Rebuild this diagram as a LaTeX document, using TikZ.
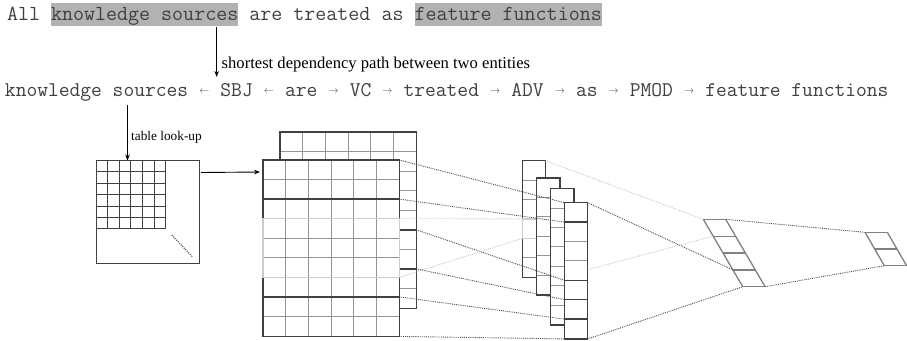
\documentclass[tikz,border=0pt]{standalone}
\usepackage{fontspec}
\setmainfont{Liberation Serif}
\usetikzlibrary{positioning,calc,arrows.meta}

\definecolor{hlgray}{gray}{0.70}
\definecolor{txtgray}{gray}{0.25}
\definecolor{edgegray}{gray}{0.25}
\definecolor{cellgray}{gray}{0.58}
\definecolor{palegray}{gray}{0.80}

% small arrows of the dependency path, one character cell wide
\newcommand\depl{\makebox[\fontcharwd\font`\x]{\raisebox{3pt}{\fontsize{10}{10}\selectfont$\leftarrow$}}}
\newcommand\depr{\makebox[\fontcharwd\font`\x]{\raisebox{3pt}{\fontsize{10}{10}\selectfont$\rightarrow$}}}

\tikzset{
  word/.style={inner sep=0pt, outer sep=0pt, text height=14pt, text depth=3pt,
    text=txtgray, font=\fontsize{21.39}{22}\ttfamily},
  hl/.style={word, fill=hlgray, inner ysep=3pt},
  lbl/.style={inner sep=0pt, anchor=base west, text=black},
  arr/.style={-{Stealth[length=6pt,width=4.5pt]}, line width=0.9pt, draw=black},
  embline/.style={draw=edgegray, line width=1pt},
  cellline/.style={draw=cellgray, line width=1pt},
  edgebox/.style={draw=edgegray, line width=1.4pt},
  palebox/.style={draw=palegray, line width=1.4pt},
  block/.style={fill=white, minimum width=136, minimum height=176, inner sep=0pt,
    anchor=north west},
  mapbox/.style={fill=white, minimum width=23, inner sep=0pt, anchor=north west},
  darkdot/.style={densely dotted, draw=black!70, line width=0.9pt},
  lightdot/.style={densely dotted, draw=black!22, line width=0.9pt},
  poolline/.style={draw=black!50, line width=1.3pt}
}

\begin{document}
\begin{tikzpicture}[x=1pt,y=-1pt]
\useasboundingbox (0,0) rectangle (907,340);

% sentence and dependency path
\node[word, anchor=base west] at (7,20) (all) {All};
\node[hl, right=11pt of all]  (ks)  {knowledge sources};
\node[word, right=11pt of ks] (ata) {are treated as};
\node[hl, right=11pt of ata]  (ff)  {feature functions};

\node[word, anchor=base west, outer ysep=5.5pt, font=\fontsize{20.92}{22}\ttfamily]
  at (5,96.5) (path)
  {knowledge sources \depl{} SBJ \depl{} are \depr{} VC \depr{} treated \depr{} ADV \depr{} as \depr{} PMOD \depr{} feature functions};

\draw[arr] ($(ks.south)+(72,1)$) -- ($(ks.south |- path.north)+(72,0)$);
\node[lbl, font=\fontsize{16.6}{18}\selectfont] at (221.5,68) (sdp)
  {shortest dependency path between two entities};

% look-up table
\node[minimum width=103.5, minimum height=102.5, inner sep=0pt, anchor=north west]
  at (96,160.5) (emb) {};
\foreach \i in {1,...,6}
  \draw[embline] ($(emb.north west)+(\i*11.6,0)$) -- ($(emb.north west)+(\i*11.6,68.5)$);
\foreach \j in {1,...,6}
  \draw[embline] ($(emb.north west)+(0,\j*11.4)$) -- ($(emb.north west)+(69.6,\j*11.4)$);
\draw[embline] (emb.north west) rectangle (emb.south east);
\draw[densely dotted, line width=1.2pt, draw=black!60]
  ($(emb.north west)+(75.7,74.5)$) -- ($(emb.north west)+(96.3,96.2)$);

\draw[arr] ($(path.south west)+(122.5,0)$) -- ($(emb.north west)+(31.5,0)$);
\node[lbl, font=\fontsize{13.3}{15}\selectfont] at (131,140.5) (look) {table look-up};

% input matrices
\node[block] at (280,132) (back) {};
\foreach \i in {1,...,5}
  \draw[cellline] ($(back.north west)+(\i*22.667,0)$) -- ($(back.south west)+(\i*22.667,0)$);
\foreach \j in {1,...,8}
  \draw[cellline] ($(back.north west)+(0,\j*19.556)$) -- ($(back.north east)+(0,\j*19.556)$);
\draw[edgebox] (back.north west) rectangle (back.south east);
\draw[edgebox] ($(back.north west)+(0,97.8)$) rectangle ($(back.north east)+(0,136.9)$);

\node[block] at (263,160) (front) {};
\foreach \i in {1,...,5}
  \draw[cellline] ($(front.north west)+(\i*22.667,0)$) -- ($(front.south west)+(\i*22.667,0)$);
\foreach \j in {1,...,8}
  \draw[cellline] ($(front.north west)+(0,\j*19.556)$) -- ($(front.north east)+(0,\j*19.556)$);
\draw[edgebox] (front.north west) rectangle (front.south east);
\draw[edgebox] (front.north west) rectangle ($(front.north east)+(0,39.1)$);
\draw[edgebox] ($(front.north west)+(0,39.1)$) rectangle ($(front.north east)+(0,136.9)$);
\draw[edgebox] ($(front.north west)+(0,136.9)$) rectangle (front.south east);
\draw[palebox] ($(front.north west)+(0,58.7)$) rectangle ($(front.north east)+(0,117.3)$);

\draw[arr] ($(emb.north east)+(1,12)$) -- ($(front.north west)+(-3,12)$);

% feature maps
\node[mapbox, minimum height=116.4] at (522.3,160.7) (map1) {};
\foreach \j in {1,...,5}
  \draw[cellline] ($(map1.north west)+(0,\j*19.4)$) -- ($(map1.north east)+(0,\j*19.4)$);
\draw[edgebox] (map1.north west) rectangle (map1.south east);
\draw[palebox] ($(map1.north west)+(0,58.2)$) rectangle ($(map1.north east)+(0,77.6)$);

\node[mapbox, minimum height=116.4] at (536.7,178) (map2) {};
\foreach \j in {1,...,5}
  \draw[cellline] ($(map2.north west)+(0,\j*19.4)$) -- ($(map2.north east)+(0,\j*19.4)$);
\draw[edgebox] (map2.north west) rectangle (map2.south east);

\node[mapbox, minimum height=135.8] at (550.7,188.7) (map3) {};
\foreach \j in {1,...,6}
  \draw[cellline] ($(map3.north west)+(0,\j*19.4)$) -- ($(map3.north east)+(0,\j*19.4)$);
\draw[edgebox] (map3.north west) rectangle (map3.south east);

\node[mapbox, minimum height=135.8] at (564.3,202.7) (map4) {};
\foreach \j in {1,...,6}
  \draw[cellline] ($(map4.north west)+(0,\j*19.4)$) -- ($(map4.north east)+(0,\j*19.4)$);
\draw[edgebox] (map4.north west) rectangle (map4.south east);
\draw[edgebox] (map4.north west) rectangle ($(map4.north east)+(0,19.4)$);
\draw[edgebox] ($(map4.north west)+(0,77.6)$) rectangle ($(map4.north east)+(0,97)$);
\draw[edgebox] ($(map4.north west)+(0,116.4)$) rectangle (map4.south east);

% pooled vector and output
\coordinate (pool) at (703.3,219.3);
\foreach \j in {0,...,4}
  \draw[poolline] ($(pool)+(\j*9.85,\j*16.85)$) -- ++(22.4,0);
\draw[poolline] (pool) -- ++(39.4,67.4);
\draw[poolline] ($(pool)+(22.4,0)$) -- ++(39.4,67.4);

\coordinate (out) at (865,232.3);
\foreach \j in {0,...,2}
  \draw[poolline] ($(out)+(\j*9.65,\j*16.7)$) -- ++(22.3,0);
\draw[poolline] (out) -- ++(19.3,33.4);
\draw[poolline] ($(out)+(22.3,0)$) -- ++(19.3,33.4);

% windows to feature maps
\draw[darkdot]  (front.north east) -- (map4.north west);
\draw[darkdot]  ($(front.north east)+(0,39.1)$)  -- ($(map4.north west)+(0,19.4)$);
\draw[lightdot] ($(front.north east)+(0,58.7)$)  -- ($(map1.north west)+(0,58.2)$);
\draw[darkdot]  ($(back.north east)+(0,97.8)$)   -- ($(map4.north west)+(0,77.6)$);
\draw[darkdot]  ($(back.north east)+(0,136.9)$)  -- ($(map4.north west)+(0,97)$);
\draw[lightdot] ($(front.north east)+(0,117.3)$) -- ($(map1.north west)+(0,77.6)$);
\draw[darkdot]  ($(front.north east)+(0,136.9)$) -- ($(map4.north west)+(0,116.4)$);
\draw[darkdot]  (front.south east) -- (map4.south west);

% feature maps to pooled vector
\draw[lightdot] (map1.north east) -- (pool);
\draw[darkdot]  (map4.north east) -- ($(pool)+(29.55,50.55)$);
\draw[lightdot] ($(map4.north east)+(0,67)$) -- ($(pool)+(9.85,16.85)$);
\draw[darkdot]  (map4.south east) -- ($(pool)+(39.4,67.4)$);

% pooled vector to output
\draw[darkdot] ($(pool)+(22.4,0)$)    -- (out);
\draw[darkdot] ($(pool)+(61.8,67.4)$) -- ($(out)+(19.3,33.4)$);

\end{tikzpicture}
\end{document}
